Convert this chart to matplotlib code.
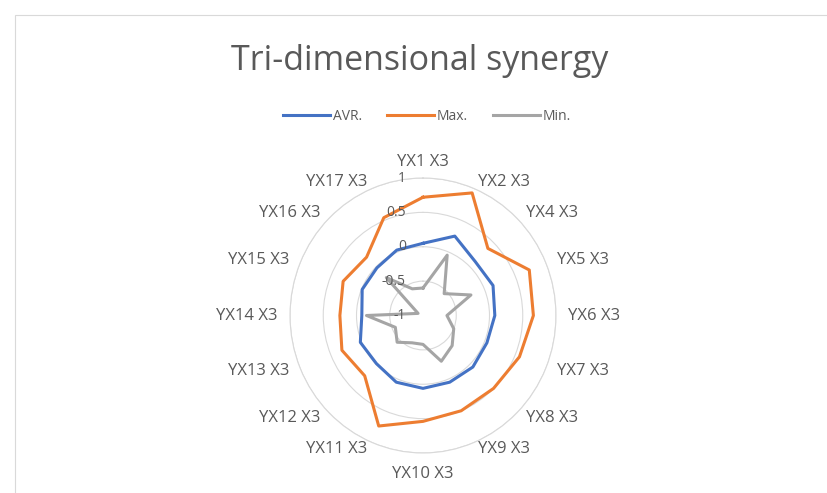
import numpy as np
import matplotlib.pyplot as plt
from matplotlib.patches import Rectangle
from matplotlib.transforms import offset_copy

categories = ["YX1 X3", "YX2 X3", "YX4 X3", "YX5 X3", "YX6 X3", "YX7 X3", "YX8 X3", "YX9 X3",
              "YX10 X3", "YX11 X3", "YX12 X3", "YX13 X3", "YX14 X3", "YX15 X3", "YX16 X3", "YX17 X3"]
avr = [0.05, 0.25, 0.11, 0.14, 0.08, 0.04, 0.06, 0.05, 0.06, 0.05, -0.01, 0.02, -0.08, -0.01, -0.02, 0.03]
mx = [0.72, 0.93, 0.38, 0.73, 0.66, 0.57, 0.50, 0.50, 0.54, 0.74, 0.24, 0.32, 0.25, 0.30, 0.20, 0.54]
mn = [-0.60, -0.05, -0.55, -0.22, -0.64, -0.50, -0.38, -0.28, -0.58, -0.57, -0.45, -0.55, -0.15, -0.92, -0.22, -0.58]
rticks = [-1, -0.5, 0, 0.5, 1]
rtick_labels = ["-1", "-0.5", "0", "0.5", "1"]

plt.rcParams['font.family'] = ['Open Sans', 'DejaVu Sans']
text_color = "#595959"

W, H = 828, 493
fig = plt.figure(figsize=(W / 100, H / 100), dpi=100)
fig.patches.append(Rectangle((15 / W, -0.1), 1.2, 1 - 15 / H + 0.1, transform=fig.transFigure,
                             fill=False, edgecolor="#D9D9D9", linewidth=0.8))

# plot area: centre about (423, 315) px, slightly wider than tall in the reference
cx, cy, rx, ry = 423, 315.5, 133, 137.5
ax = fig.add_axes([(cx - rx) / W, (H - cy - ry) / H, 2 * rx / W, 2 * ry / H], projection="polar")
ax.set_aspect("auto")
ax.set_theta_zero_location("N")
ax.set_theta_direction(-1)

n = len(categories)
angles = np.arange(n) * 2 * np.pi / n
closed = np.append(angles, angles[0])

series = [("AVR.", avr, "#4472C4"), ("Max.", mx, "#ED7D31"), ("Min.", mn, "#A5A5A5")]
for name, vals, col in series:
    ax.plot(closed, np.append(vals, vals[0]), color=col, linewidth=2.2, label=name, solid_joinstyle="round")

ax.set_ylim(-1, 1)
ax.set_yticks(rticks)
ax.set_yticklabels([])
ax.yaxis.grid(True, color="#D9D9D9", linewidth=0.8)
ax.xaxis.grid(False)
ax.spines["polar"].set_color("#D9D9D9")
ax.spines["polar"].set_linewidth(0.8)
ax.set_xticks(angles)
ax.set_xticklabels([])
ax.tick_params(axis="x", length=0)

# category labels, anchored just outside the outer ring (Excel style)
for a, lab in zip(angles, categories):
    s, c = np.sin(a), np.cos(a)
    ha = "center" if abs(s) < 0.1 else ("left" if s > 0 else "right")
    va = "center" if abs(c) < 0.99 else ("bottom" if c > 0 else "top")
    dy = 7.5 * c - (6 if va == "top" else 0)
    tr = offset_copy(ax.transData, fig=fig, x=12 * s, y=dy, units="dots")
    ax.text(a, 1, lab, transform=tr, ha=ha, va=va, fontsize=12, color=text_color, clip_on=False)

trans = offset_copy(ax.transData, fig=fig, x=-17, y=0, units="dots")
for t, lab in zip(rticks, rtick_labels):
    ax.text(0, t, lab, transform=trans, ha="right", va="center", fontsize=10, color=text_color)

fig.text(420 / W, 1 - 70 / H, "Tri-dimensional synergy", ha="center", va="baseline",
         fontsize=24.5, color=text_color)
fig.legend(loc="center", bbox_to_anchor=(427 / W, 1 - 116 / H), ncol=3, frameon=False,
           fontsize=10, handlelength=3.4, columnspacing=1.8, handletextpad=0.2, labelcolor=text_color)

fig.savefig("out.png", dpi=100)
